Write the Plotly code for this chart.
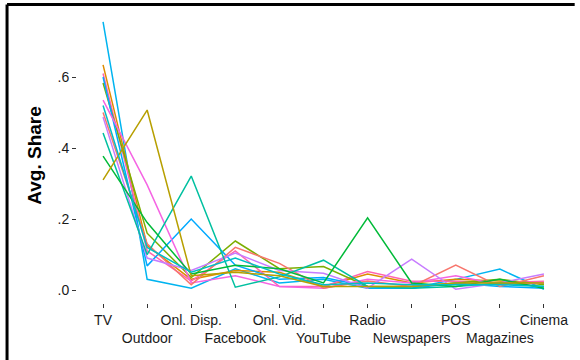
import plotly.graph_objects as go

categories = ["TV", "Outdoor", "Onl. Disp.", "Facebook", "Onl. Vid.", "YouTube",
              "Radio", "Newspapers", "POS", "Magazines", "Cinema"]

s01 = [0.755, 0.030, 0.005, 0.060, 0.020, 0.030, 0.005, 0.005, 0.030, 0.059, 0.002]
s02 = [0.634, 0.125, 0.030, 0.055, 0.050, 0.010, 0.045, 0.020, 0.030, 0.025, 0.020]
s03 = [0.610, 0.110, 0.025, 0.110, 0.010, 0.010, 0.052, 0.025, 0.025, 0.020, 0.025]
s04 = [0.583, 0.160, 0.035, 0.138, 0.060, 0.066, 0.010, 0.010, 0.020, 0.030, 0.015]
s05 = [0.600, 0.068, 0.200, 0.070, 0.030, 0.035, 0.010, 0.005, 0.020, 0.010, 0.005]
s06 = [0.535, 0.296, 0.020, 0.040, 0.010, 0.005, 0.030, 0.020, 0.040, 0.015, 0.020]
s07 = [0.500, 0.130, 0.015, 0.120, 0.075, 0.005, 0.025, 0.010, 0.070, 0.010, 0.040]
s08 = [0.487, 0.090, 0.055, 0.104, 0.055, 0.047, 0.005, 0.087, 0.002, 0.020, 0.045]
s09 = [0.442, 0.100, 0.321, 0.008, 0.037, 0.084, 0.010, 0.005, 0.010, 0.020, 0.010]
s10 = [0.377, 0.190, 0.045, 0.070, 0.060, 0.020, 0.203, 0.020, 0.010, 0.030, 0.005]
s11 = [0.310, 0.507, 0.040, 0.050, 0.040, 0.010, 0.010, 0.010, 0.020, 0.020, 0.020]
s12 = [0.520, 0.120, 0.050, 0.090, 0.045, 0.015, 0.020, 0.015, 0.015, 0.015, 0.010]

series = [s01, s02, s03, s04, s05, s06, s07, s08, s09, s10, s11, s12]
colors = ["#00B4F0", "#DE8C00", "#FF64B0", "#7CAE00", "#00A9FF", "#F564E3",
          "#F8766D", "#C77CFF", "#00C0A0", "#00BA38", "#B79F00", "#00BFC4"]

ytickvals = [0.0, 0.2, 0.4, 0.6]
yticktext = [".0", ".2", ".4", ".6"]

xpos = list(range(len(categories)))
xticktext = [c if i % 2 == 0 else "<br>" + c for i, c in enumerate(categories)]

fig = go.Figure()
for s, c in zip(series, colors):
    fig.add_trace(go.Scatter(x=xpos, y=s, mode="lines",
                             line=dict(color=c, width=1.5), showlegend=False,
                             hoverinfo="skip"))

fig.update_layout(
    width=580, height=360,
    margin=dict(l=77, r=10, t=8, b=57, autoexpand=False),
    paper_bgcolor="white", plot_bgcolor="white",
    font=dict(family="Liberation Sans, Arial, sans-serif", size=14, color="#1a1a1a"),
    xaxis=dict(range=[-0.591, 10.591], tickvals=xpos, ticktext=xticktext,
               tickangle=0, automargin=False,
               ticks="outside", ticklen=4, tickcolor="#333", tickwidth=1,
               showgrid=False, zeroline=False, showline=False,
               tickfont=dict(size=14, color="#1a1a1a")),
    yaxis=dict(range=[-0.0366, 0.7944], tickvals=ytickvals, ticktext=yticktext,
               automargin=False,
               ticks="outside", ticklen=4, tickcolor="#333", tickwidth=1,
               showgrid=False, zeroline=False, showline=False,
               tickfont=dict(size=14, color="#1a1a1a"),
               title=dict(text="<b>Avg. Share</b>", font=dict(size=19, color="#000"),
                          standoff=10)),
)

# outer frame (top and left edges visible)
fig.add_shape(type="line", xref="paper", yref="paper",
              x0=-0.1419, x1=1.0095, y0=1.0122, y1=1.0122,
              line=dict(color="black", width=3))
fig.add_shape(type="line", xref="paper", yref="paper",
              x0=-0.1419, x1=-0.1419, y0=1.0122, y1=-0.25,
              line=dict(color="black", width=3))

fig.write_html("out.html")
